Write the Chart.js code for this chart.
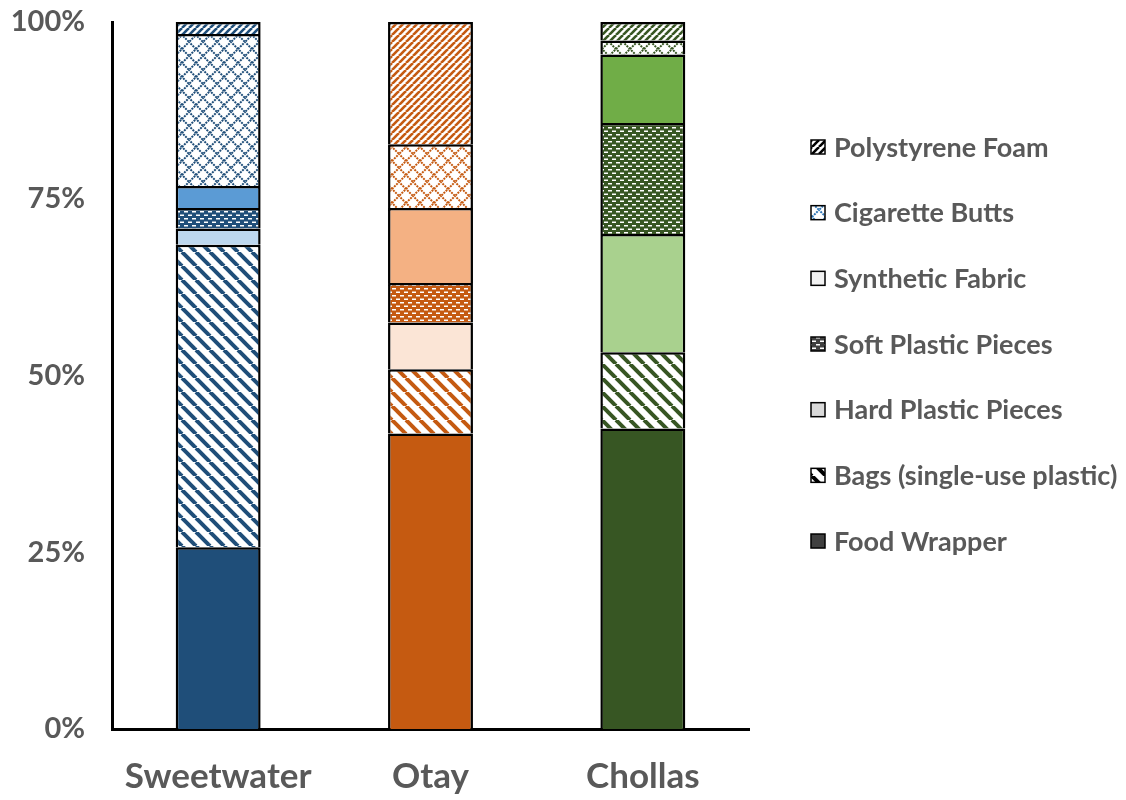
<!DOCTYPE html>
<html>
<head>
<meta charset="utf-8">
<script src="https://cdn.jsdelivr.net/npm/chart.js@4/dist/chart.umd.min.js"></script>
<style>
html,body{margin:0;padding:0;background:#fff;}
#wrap{position:relative;width:1126px;height:800px;}
</style>
</head>
<body>
<div id="wrap"><canvas id="c" width="1126" height="800"></canvas></div>
<script>
const categories = ["Sweetwater", "Otay", "Chollas"];
const seriesNames = ["Food Wrapper", "Bags (single-use plastic)", "Hard Plastic Pieces", "Soft Plastic Pieces", "Synthetic Fabric", "Cigarette Butts", "Polystyrene Foam"];
const foodWrapper     = [25.7, 41.8, 42.5];
const bags            = [42.8,  9.1, 10.8];
const hardPlastic     = [ 2.3,  6.6, 16.7];
const softPlastic     = [ 2.9,  5.6, 15.7];
const syntheticFabric = [ 3.1, 10.6,  9.7];
const cigaretteButts  = [21.5,  9.0,  2.0];
const polystyreneFoam = [ 1.7, 17.3,  2.6];
const yTicks = [0, 25, 50, 75, 100];

const seriesData = [foodWrapper, bags, hardPlastic, softPlastic, syntheticFabric, cigaretteButts, polystyreneFoam];
const seriesKinds = ["solidDark", "diagDown", "solidLight", "dashes", "solidMid", "lattice", "diagUp"];

const palettes = [
  {dark: "#1F4E79", mid: "#5B9BD5", light: "#BDD7EE"},
  {dark: "#C55A11", mid: "#F4B183", light: "#FBE5D6"},
  {dark: "#375623", mid: "#70AD47", light: "#A9D18E"}
];
const legendPalette = {dark: "#404040", mid: "#F2F2F2", light: "#D9D9D9", line: "#000000", lattice: "#2E75B6"};

const mainCtx = document.getElementById('c').getContext('2d');

function tile(w, h, draw) {
  const cv = document.createElement('canvas');
  cv.width = w; cv.height = h;
  const g = cv.getContext('2d');
  draw(g, w, h);
  return mainCtx.createPattern(cv, 'repeat');
}

function makeFill(kind, pal, lineColor, latticeColor) {
  if (kind === "solidDark") return pal.dark;
  if (kind === "solidMid") return pal.mid;
  if (kind === "solidLight") return pal.light;
  if (kind === "diagDown") return tile(14, 14, (g, w, h) => {
    g.fillStyle = '#fff'; g.fillRect(0, 0, w, h);
    g.strokeStyle = lineColor; g.lineWidth = 4;
    for (const o of [-14, 0, 14]) { g.beginPath(); g.moveTo(o, 0); g.lineTo(o + 14, 14); g.stroke(); }
  });
  if (kind === "diagUp") return tile(7, 7, (g, w, h) => {
    g.fillStyle = '#fff'; g.fillRect(0, 0, w, h);
    g.strokeStyle = lineColor; g.lineWidth = 2.6;
    for (const o of [-7, 0, 7]) { g.beginPath(); g.moveTo(o, 7); g.lineTo(o + 7, 0); g.stroke(); }
  });
  if (kind === "dashes") return tile(8, 7, (g, w, h) => {
    g.fillStyle = pal.dark; g.fillRect(0, 0, w, h);
    g.fillStyle = '#fff';
    g.fillRect(0, 1, 4, 1.5);
    g.fillRect(4, 4.5, 4, 1.5);
  });
  if (kind === "lattice") return tile(14, 14, (g, w, h) => {
    g.fillStyle = '#fff'; g.fillRect(0, 0, w, h);
    g.strokeStyle = latticeColor; g.lineWidth = 2;
    g.setLineDash([2, 1]);
    g.beginPath();
    g.moveTo(0, 7); g.lineTo(7, 0); g.lineTo(14, 7); g.lineTo(7, 14); g.closePath();
    g.stroke();
  });
  return pal.dark;
}

const datasets = seriesNames.map((name, i) => ({
  label: name,
  data: seriesData[i],
  backgroundColor: palettes.map(p => makeFill(seriesKinds[i], p, p.dark, p.dark)),
  borderColor: '#000',
  borderWidth: 2.5,
  barPercentage: 0.4,
  categoryPercentage: 1.0
}));

const legendFills = seriesKinds.map(k => makeFill(k, legendPalette, '#000', legendPalette.lattice));

const customLegend = {
  id: 'customLegend',
  afterDraw(chart) {
    const ctx = chart.ctx;
    ctx.save();
    ctx.font = 'bold 27px Lato';
    ctx.textBaseline = 'middle';
    ctx.textAlign = 'left';
    const n = seriesNames.length;
    for (let r = 0; r < n; r++) {
      const idx = n - 1 - r;
      const cy = 147 + r * 65.67;
      ctx.fillStyle = legendFills[idx];
      ctx.fillRect(811, cy - 7, 14, 14);
      ctx.strokeStyle = '#000';
      ctx.lineWidth = 1.5;
      ctx.strokeRect(811, cy - 7, 14, 14);
      ctx.fillStyle = '#595959';
      ctx.fillText(seriesNames[idx], 834, cy + 1);
    }
    ctx.restore();
  }
};

new Chart(mainCtx, {
  type: 'bar',
  data: { labels: categories, datasets },
  options: {
    responsive: false,
    animation: false,
    layout: { padding: { top: 22, right: 377, bottom: 0, left: 0 } },
    plugins: { legend: { display: false }, tooltip: { enabled: false } },
    scales: {
      x: {
        stacked: true,
        grid: { display: false, drawTicks: false },
        border: { display: true, color: '#000', width: 3 },
        ticks: { color: '#595959', font: { family: 'Lato', weight: 'bold', size: 35 }, padding: 27 },
        afterFit(s) { s.height = 71; s.paddingLeft = 0; s.paddingRight = 0; }
      },
      y: {
        stacked: true,
        min: 0, max: 100,
        afterBuildTicks(s) { s.ticks = yTicks.map(v => ({ value: v })); },
        grid: { display: false, drawTicks: false },
        border: { display: true, color: '#000', width: 3 },
        ticks: { color: '#595959', font: { family: 'Lato', weight: 'bold', size: 29 }, padding: 27, callback: v => v + '%' },
        afterFit(s) { s.width = 112; s.paddingTop = 0; s.paddingBottom = 0; }
      }
    }
  },
  plugins: [customLegend]
});
</script>
</body>
</html>
